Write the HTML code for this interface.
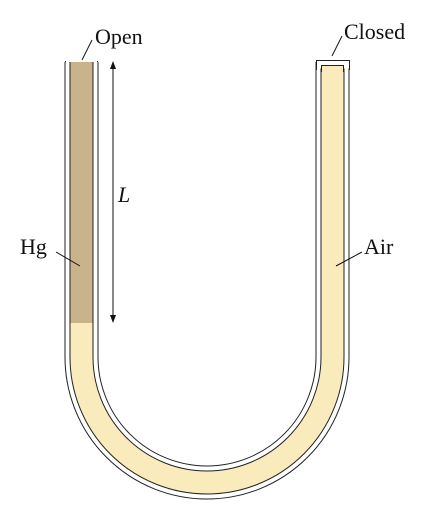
<!DOCTYPE html>
<html><head><meta charset="utf-8"><style>body{margin:0;background:#fff}svg{display:block}text{font-family:"Liberation Serif",serif;font-size:22px;fill:#111}</style></head>
<body>
<svg width="426" height="518" viewBox="0 0 426 518">
<g fill="none">
<path d="M81.5,62 V357 A125.5 125.5 0 0 0 332.5,357 V62" stroke="#222" stroke-width="34"/>
<path d="M81.5,61 V357 A125.5 125.5 0 0 0 332.5,357 V61" stroke="#fff" stroke-width="32"/>
<path d="M81.5,62 V357 A125.5 125.5 0 0 0 332.5,357 V66" stroke="#222" stroke-width="24"/>
<path d="M81.5,62 V357 A125.5 125.5 0 0 0 332.5,357 V67" stroke="#faebbd" stroke-width="22"/>
<line x1="81.5" y1="62" x2="81.5" y2="323" stroke="#c9b38b" stroke-width="22"/>
<path d="M65.5,62 V61 M97.5,62 V61" stroke="#222"/>
<rect x="316.5" y="60.5" width="33" height="8" fill="#fff" stroke="none"/>
<path d="M316.5,70 V60.5 H349.5 V70" stroke="#222"/>
<path d="M321.5,72 V65.5 H343.5 V72" stroke="#222" fill="#faebbd"/>
</g>
<g stroke="#111" fill="#111">
<line x1="113" y1="66" x2="113" y2="318"/>
<path d="M113,61 L110,69 L116,69Z M113,323 L110,315 L116,315Z" stroke="none"/>
</g>
<text x="118" y="202" font-style="italic">L</text>
<text x="95" y="44">Open</text>
<line x1="92" y1="40" x2="82" y2="60" stroke="#111"/>
<text x="344" y="39">Closed</text>
<line x1="342" y1="36" x2="332" y2="56" stroke="#111"/>
<text x="20" y="254">Hg</text>
<line x1="56" y1="252" x2="80" y2="266" stroke="#111"/>
<text x="364" y="254">Air</text>
<line x1="362" y1="252" x2="336" y2="266" stroke="#111"/>
</svg>
</body></html>
